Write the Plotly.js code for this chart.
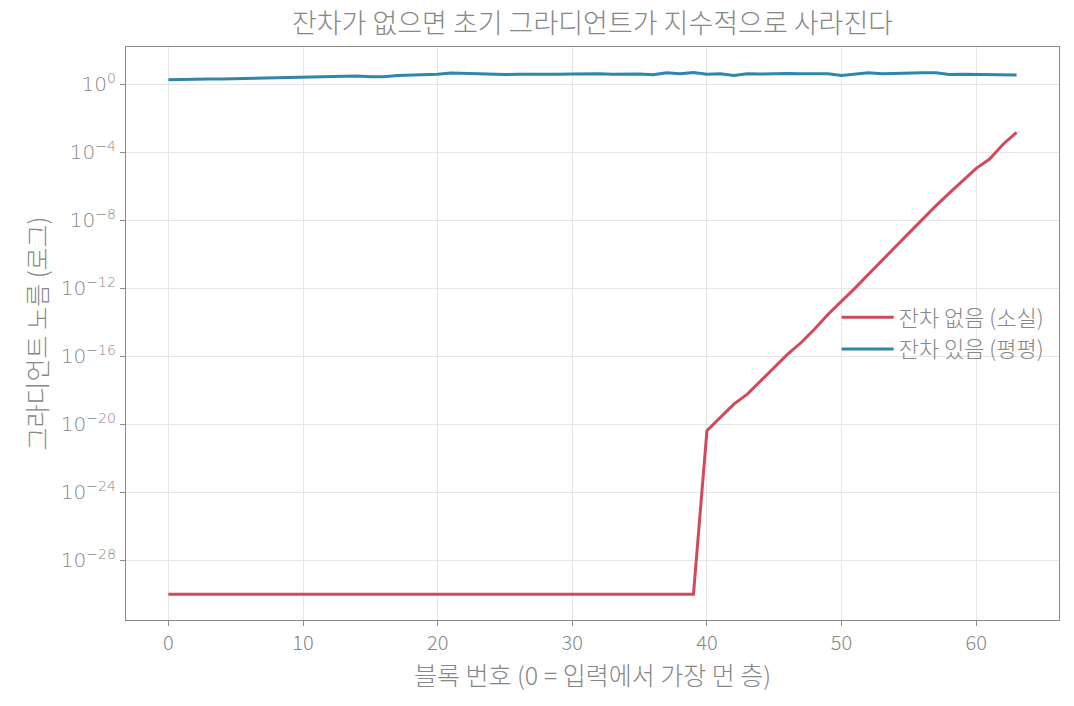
<!DOCTYPE html>
<html>
<head>
<meta charset="utf-8">
<script src="https://cdn.plot.ly/plotly-3.0.1.min.js"></script>
<style>
  html, body { margin: 0; padding: 0; background: #fff; }
  #chart { width: 1074px; height: 706px; }
</style>
</head>
<body>
<div id="chart"></div>
<script>
// block index 0..63
var blocks = [];
for (var i = 0; i < 64; i++) blocks.push(i);

// gradient norm without residual (vanishing)
var noResidual = [
  1e-30, 1e-30, 1e-30, 1e-30, 1e-30, 1e-30, 1e-30, 1e-30, 1e-30, 1e-30,
  1e-30, 1e-30, 1e-30, 1e-30, 1e-30, 1e-30, 1e-30, 1e-30, 1e-30, 1e-30,
  1e-30, 1e-30, 1e-30, 1e-30, 1e-30, 1e-30, 1e-30, 1e-30, 1e-30, 1e-30,
  1e-30, 1e-30, 1e-30, 1e-30, 1e-30, 1e-30, 1e-30, 1e-30, 1e-30, 1e-30,
  4.1e-21, 2.5e-20, 1.5e-19, 5.8e-19, 3.5e-18, 2.1e-17, 1.3e-16, 6.3e-16,
  3.9e-15, 2.9e-14, 1.6e-13, 1.0e-12, 6.6e-12, 4.0e-11, 2.7e-10, 1.7e-9,
  1.15e-8, 6.9e-8, 3.9e-7, 2.0e-6, 1.1e-5, 3.9e-5, 2.9e-4, 1.45e-3
];

// gradient norm with residual (flat)
var withResidual = [
  1.78, 1.90, 1.86, 2.00, 2.00, 2.09, 2.09, 2.24, 2.40, 2.51,
  2.63, 2.69, 2.88, 2.75, 2.95, 2.69, 2.69, 3.16, 3.31, 3.63,
  3.80, 4.47, 4.17, 3.80, 3.63, 3.63, 3.72, 3.63, 3.89, 3.72,
  3.89, 4.07, 3.98, 3.80, 3.98, 3.89, 3.55, 4.57, 4.07, 4.79,
  3.80, 3.98, 3.16, 4.07, 3.89, 4.07, 4.17, 3.98, 3.80, 3.98,
  3.16, 3.72, 4.57, 3.98, 4.27, 4.37, 4.57, 4.68, 3.63, 3.72,
  3.63, 3.63, 3.72, 3.47
];

var yTickVals = [1, 1e-4, 1e-8, 1e-12, 1e-16, 1e-20, 1e-24, 1e-28];
var yTickText = ['10<sup>0</sup>', '10<sup>\u22124</sup>', '10<sup>\u22128</sup>', '10<sup>\u221212</sup>',
                 '10<sup>\u221216</sup>', '10<sup>\u221220</sup>', '10<sup>\u221224</sup>', '10<sup>\u221228</sup>'];

var font = '"Noto Sans CJK KR", "Noto Sans", sans-serif';
var grey = '#878787';

var traces = [
  {
    x: blocks, y: noResidual, name: '잔차 없음 (소실)',
    type: 'scatter', mode: 'lines',
    line: {color: '#d1495b', width: 3}
  },
  {
    x: blocks, y: withResidual, name: '잔차 있음 (평평)',
    type: 'scatter', mode: 'lines',
    line: {color: '#2e86ab', width: 3}
  }
];

var axisCommon = {
  showline: true, mirror: true, linecolor: '#8a8a8a', linewidth: 1.2,
  ticks: 'outside', ticklen: 5, tickcolor: '#8a8a8a', tickwidth: 1,
  showgrid: true, gridcolor: '#e6e6e6', gridwidth: 1, zeroline: false
};

var layout = {
  width: 1074, height: 706,
  paper_bgcolor: '#ffffff', plot_bgcolor: '#ffffff',
  margin: {l: 126, r: 15, t: 47, b: 86},
  font: {family: font, color: grey, weight: 300},
  title: {
    text: '잔차가 없으면 초기 그라디언트가 지수적으로 사라진다',
    font: {family: font, size: 27, color: grey, weight: 300},
    xref: 'paper', x: 0.5, xanchor: 'center', y: 0.967, yanchor: 'middle'
  },
  xaxis: Object.assign({}, axisCommon, {
    range: [-3.15, 66.15], tickvals: [0, 10, 20, 30, 40, 50, 60],
    tickfont: {family: font, size: 20, color: grey, weight: 300},
    title: {text: '블록 번호 (0 = 입력에서 가장 먼 층)', font: {family: font, size: 25, color: grey, weight: 300}, standoff: 6}
  }),
  yaxis: Object.assign({}, axisCommon, {
    type: 'log', range: [-31.52, 2.18],
    tickvals: yTickVals, ticktext: yTickText,
    tickfont: {family: 'DejaVu Sans, sans-serif', size: 20, color: grey},
    title: {text: '그라디언트 노름 (로그)', font: {family: font, size: 25, color: grey, weight: 300}, standoff: 6}
  }),
  legend: {
    x: 0.99, xanchor: 'right', y: 0.5, yanchor: 'middle',
    bgcolor: 'rgba(255,255,255,0)', borderwidth: 0,
    itemwidth: 52,
    font: {family: font, size: 22, color: grey, weight: 300}
  },
  showlegend: true
};

Plotly.newPlot('chart', traces, layout, {displayModeBar: false, staticPlot: true});
</script>
</body>
</html>
